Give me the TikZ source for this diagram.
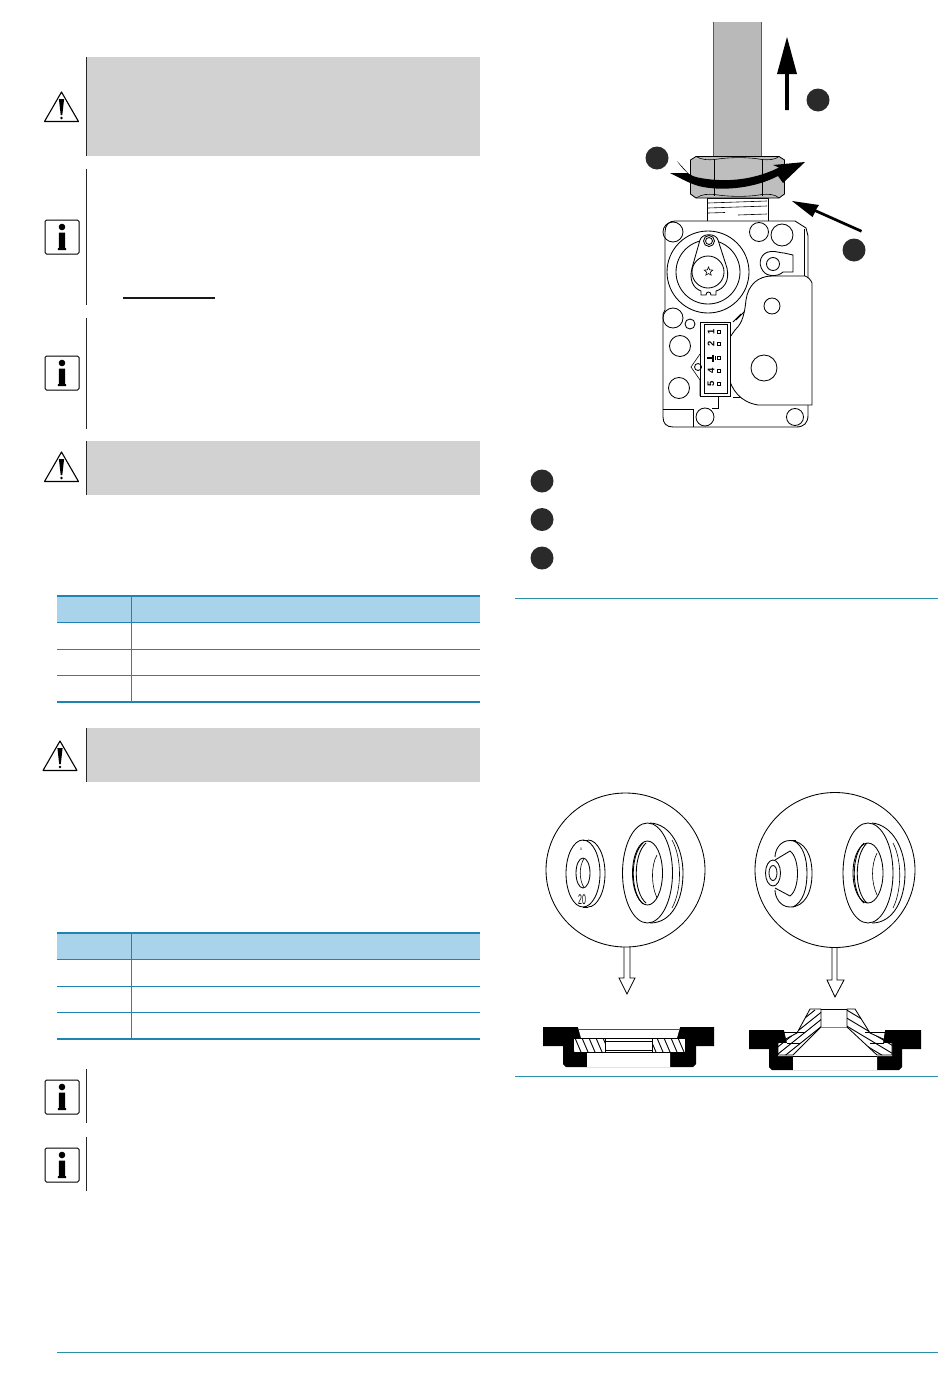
\documentclass[tikz,border=0pt]{standalone}
\usepackage{fontspec}
\setmainfont{Liberation Sans}
\usetikzlibrary{shapes.geometric}
\definecolor{panelgray}{HTML}{D2D2D2}
\definecolor{headblue}{HTML}{A8D3EA}
\definecolor{tableblue}{HTML}{1E84B4}
\definecolor{ruleteal}{HTML}{2B8FA6}
\definecolor{pipegray}{HTML}{B9B9B9}
\definecolor{nutgray}{HTML}{BEBEBE}
\definecolor{dotblack}{HTML}{2A2A2A}
\tikzset{
  panelbar/.style={line width=0.9pt,black!85},
  thinrule/.style={line width=0.9pt,ruleteal},
  tableheavy/.style={line width=1.9pt,tableblue},
  tablelight/.style={line width=1pt,tableblue},
  lineart/.style={line width=0.85pt,black},
  fineart/.style={line width=0.6pt,black},
  hatchline/.style={line width=0.9pt,black},
  dotmark/.style={circle,fill=dotblack,inner sep=0pt,minimum size=23pt},
  warnsign/.pic={
    \draw[line width=1.1pt,line join=round] (0,-16) -- (17,13.5) -- (-17,13.5) -- cycle;
    \fill (-2.6,-9) -- (2.6,-9) -- (0.8,7) -- (-0.8,7) -- cycle;
    \fill (0,10) circle (1.3);
  },
  infosign/.pic={
    \draw[line width=1pt,rounded corners=1.5pt] (-17,-17) rectangle (17,17);
    \fill (0,-10) circle (3.3);
    \fill (-3.2,-4.5) -- (3.2,-4.5) -- (3.2,11) -- (4.2,11) -- (4.2,13) -- (-4.2,13) -- (-4.2,11) -- (-3.2,11) -- cycle;
  }
}
\newcommand{\datatable}[1]{
  \fill[headblue] (57,#1) rectangle (480,#1+26);
  \draw[tableheavy] (57,#1) -- (480,#1);
  \draw[tablelight] (57,#1+26) -- (480,#1+26);
  \draw[tablelight] (57,#1+53) -- (480,#1+53);
  \draw[tablelight] (57,#1+79) -- (480,#1+79);
  \draw[tableheavy] (57,#1+106) -- (480,#1+106);
  \draw[tablelight] (131,#1) -- (131,#1+106);
}
\begin{document}
\begin{tikzpicture}[x=1pt,y=-1pt]
    \useasboundingbox (0,0) rectangle (950,1379);
    % left column panels
    \fill[panelgray] (87,57) rectangle (480,156);
    \draw[panelbar] (86,57) -- (86,156);
    \pic at (61.5,108) {warnsign};
    \draw[panelbar] (86,169) -- (86,305);
    \pic at (62,237) {infosign};
    \draw[line width=2pt,black!90] (123,297.5) -- (215,297.5);
    \draw[panelbar] (86,318) -- (86,429);
    \pic at (62,373) {infosign};
    \fill[panelgray] (87,441) rectangle (480,495);
    \draw[panelbar] (86,441) -- (86,495);
    \pic at (61.5,468) {warnsign};
    \datatable{596}
    \fill[panelgray] (87,728) rectangle (480,782);
    \draw[panelbar] (86,728) -- (86,782);
    \pic at (60,757) {warnsign};
    \datatable{933}
    \draw[panelbar] (86,1069) -- (86,1123);
    \pic at (62,1097) {infosign};
    \draw[panelbar] (86,1137) -- (86,1191);
    \pic at (62,1165) {infosign};
    % rules
    \draw[thinrule] (515,598.5) -- (938,598.5);
    \draw[thinrule] (515,1076) -- (938,1076);
    \draw[thinrule] (57,1352) -- (938,1352);
    % legend
    \node[dotmark] (legendA) at (542,481) {};
    \node[dotmark] (legendB) at (542,519.5) {};
    \node[dotmark] (legendC) at (542,558) {};
    % pipe and nut
    \fill[pipegray] (713.5,22) rectangle (761,157);
    \draw[line width=0.9pt,black!65] (713.5,22) -- (713.5,157);
    \draw[line width=0.9pt,black!65] (761,22) -- (761,157);
    \draw[lineart,fill=white] (707.5,198) rectangle (768,222);
    \draw[fineart] (708,203) -- (767,201);
    \draw[fineart] (708,208) -- (767,206);
    \draw[fineart] (708,213) -- (725,212.5);
    \draw[fineart] (738,215) -- (767,214);
    \draw[lineart,fill=nutgray,line join=round] (690.5,160) -- (696,156.5) -- (779,156.5) -- (784.5,160) -- (784.5,194) -- (779,198) -- (696,198) -- (690.5,194) -- cycle;
    \draw[fineart] (714.5,159) -- (714.5,196);
    \draw[fineart] (762,159) -- (762,196);
    \draw[fineart] (696,156.5) .. controls (702,160) and (708,160) .. (714.5,159.5) .. controls (730,157) and (748,157) .. (762,159.5) .. controls (768,160) and (775,160) .. (779,156.5);
    \draw[fineart] (696,198) .. controls (702,194) and (708,194) .. (714.5,194.5) .. controls (730,197) and (748,197) .. (762,194.5) .. controls (768,194) and (775,194) .. (779,198);
    % arrows
    \fill (787,37) -- (797,74) -- (788.8,74) -- (788.8,110) -- (785.2,110) -- (785.2,74) -- (777,74) -- cycle;
    \fill (677,161) .. controls (684,171) and (690,176) .. (698,177.5) .. controls (720,182) and (750,182) .. (779,167.5) -- (773,165) -- (805,162) -- (783,183) -- (778,176) .. controls (755,188) and (725,191) .. (703,187) .. controls (692,185) and (682,179) .. (670,173) -- (688,173) -- cycle;
    \fill (792,201) -- (819,205) -- (816,209.5) -- (862,230) -- (861,232.5) -- (815,212) -- (812.5,217) -- cycle;
    \node[dotmark] (markA) at (818,100) {};
    \node[dotmark] (markB) at (657,158) {};
    \node[dotmark] (markC) at (854,250) {};
    % valve body
    \draw[lineart,fill=white] (675,221) -- (795,221) -- (806,228) -- (808,236) -- (808,415) .. controls (808,423) and (804,427) .. (796,427) -- (673,427) .. controls (666,427) and (663,423) .. (663,417) -- (663,314) -- (665,310) -- (665,232) .. controls (665,225) and (669,221) .. (675,221) -- cycle;
    \draw[fineart] (804,229) -- (804,282);
    \draw[lineart] (673,232) circle (10);
    \draw[lineart] (759,232) circle (9.5);
    \draw[lineart] (782,235) circle (11);
    \draw[lineart] (708,272) circle (41);
    \draw[lineart] (708,272) circle (32);
    \draw[lineart,fill=white] (700,240) .. controls (702,233) and (716,233) .. (718,240) -- (727,268) .. controls (730,282) and (723,289) .. (716,291) -- (716,295) -- (711,295) .. controls (711,291) and (706,291) .. (706,295) -- (701,295) -- (701,291) .. controls (693,288) and (689,280) .. (692,268) -- cycle;
    \draw[lineart] (709,241) circle (5.5);
    \draw[lineart] (709,241) circle (3.5);
    \draw[lineart] (708,272) circle (16);
    \node[star,star points=5,star point ratio=2.2,draw,line width=0.6pt,inner sep=0pt,minimum size=9pt] (starmark) at (708.5,271.5) {};
    \draw[lineart,fill=white] (784,253) -- (793,255) -- (793,272) -- (783,272) .. controls (778,277) and (767,277) .. (763,271) .. controls (757,263) and (761,252) .. (771,251.5) .. controls (776,251) and (780,253) .. (784,253) -- cycle;
    \draw[lineart] (773,264) circle (6.5);
    \draw[lineart] (736,320) -- (748,308);
    \draw[lineart] (733,322) -- (741,314);
    \draw[lineart] (733,397) -- (741,397);
    \draw[lineart,fill=white] (812,283) -- (812,405) -- (758,405) .. controls (740,402) and (732,390) .. (728,376) -- (728,340) -- (735,330) .. controls (740,325) and (744,320) .. (746,300) .. controls (748,285) and (758,276) .. (772,276) -- (805,276) .. controls (808,277) and (811,280) .. (812,283) -- cycle;
    \draw[lineart] (772,306) circle (8);
    \draw[lineart] (764,368) circle (13);
    \draw[lineart,fill=white] (700,322) rectangle (730,396);
    \draw[fineart] (704,324) rectangle (727,393);
    \foreach \ypos/\lab in {332/1,344/2,371/4,384/5}{
        \node[rotate=90,inner sep=0pt,font=\bfseries\fontsize{9.5}{9.5}\selectfont] (pin\lab) at (711,\ypos) {\lab};
        \draw[fineart] (717.5,\ypos-1.5) rectangle (720.5,\ypos+1.5);
    }
    \draw[line width=1.1pt] (707,358) -- (713,358);
    \draw[line width=1.1pt] (713,354.5) -- (713,361.5);
    \draw[line width=0.8pt] (715,356) -- (715,360);
    \draw[fineart] (717.5,356.5) rectangle (720.5,359.5);
    \draw[lineart] (673,318) circle (10);
    \draw[lineart] (690,324) circle (5);
    \draw[lineart] (680,346) circle (10.5);
    \draw[lineart] (679,388) circle (10.5);
    \draw[lineart] (698,367) circle (3.5);
    \draw[lineart] (705,417) circle (9);
    \draw[lineart] (795,417) circle (8.5);
    \draw[lineart] (663,409) -- (693,409) -- (693,427);
    \draw[fineart] (700,396) -- (700,380) -- (691,367) -- (700,354);
    \draw[fineart] (718,396) -- (718,408) -- (712,408);
    % left magnifier
    \draw[lineart] (625.5,870) ellipse (79.5 and 77);
    \draw[lineart] (624,947) -- (624,978) -- (619,978) -- (627,994) -- (635,978) -- (630,978) -- (630,947);
    \draw[lineart] (588,840) arc (-90:90:17 and 33.5);
    \draw[lineart] (588,840) -- (583,840);
    \draw[lineart] (588,907) -- (583,907);
    \draw[lineart] (583,873.5) ellipse (17 and 33.5);
    \draw[lineart] (583,873) ellipse (7 and 15);
    \draw[fineart] (584,858.5) .. controls (579,866) and (579,880) .. (584,887.5);
    \node[inner sep=0pt,font=\fontsize{3.5}{4}\selectfont] (smallmark) at (581,849.5) {0};
    \node[inner sep=0pt,yscale=2,font=\fontsize{7}{7}\selectfont] (sizelabel) at (582,899.5) {20};
    \draw[lineart] (650,823) .. controls (672,824) and (683,850) .. (683,873) .. controls (683,900) and (672,923) .. (650,923);
    \draw[fineart] (672,840) .. controls (682,858) and (682,890) .. (672,908);
    \draw[lineart] (647.5,873) ellipse (25 and 50);
    \draw[lineart] (647.5,873) ellipse (15 and 32);
    \draw[lineart] (643,843) .. controls (630,855) and (630,892) .. (643,904);
    \draw[lineart] (646,843) .. controls (633,855) and (633,892) .. (646,903);
    \draw[fineart] (657,855) .. controls (651,865) and (651,885) .. (657,898);
    % left section
    \fill (543,1027) -- (714,1027) -- (714,1046) -- (696,1046) -- (696,1064) -- (693,1067) -- (566,1067) -- (563,1064) -- (563,1046) -- (543,1046) -- cycle;
    \fill[white] (578,1027) -- (680,1027) -- (677,1038) -- (685,1038) -- (685,1052) -- (670,1052) -- (670,1067) -- (587,1067) -- (587,1052) -- (573,1052) -- (573,1038) -- (581,1038) -- cycle;
    \draw[line width=1pt,black!70] (579,1029) -- (679,1029);
    \draw[fineart] (581,1038) -- (677,1038);
    \draw[fineart] (587,1052) -- (670,1052);
    \begin{scope}
        \clip (573,1038) rectangle (605,1052);
        \foreach \i in {0,...,5}{
            \draw[hatchline] (568+\i*7,1038) -- (574+\i*7,1052);
        }
    \end{scope}
    \begin{scope}
        \clip (652,1038) rectangle (685,1052);
        \foreach \i in {0,...,5}{
            \draw[hatchline] (650+\i*7,1038) -- (656+\i*7,1052);
        }
    \end{scope}
    \draw[lineart] (573,1038) rectangle (605,1052);
    \draw[lineart] (652,1038) rectangle (685,1052);
    \draw[fineart] (605,1041) -- (652,1041);
    \draw[fineart] (605,1050) -- (652,1050);
    % right magnifier
    \draw[lineart] (835,870) ellipse (80 and 77.5);
    \draw[lineart] (832,947) -- (832,980) -- (827,980) -- (835,997) -- (844,980) -- (837,980) -- (837,947);
    \draw[lineart] (790,840.5) .. controls (805,841) and (812,855) .. (812,873.5) .. controls (812,892) and (805,907) .. (790,907);
    \draw[lineart] (790,840.5) -- (796,840.5);
    \draw[lineart] (790,840.5) .. controls (780,840.5) and (775,850) .. (775,857);
    \draw[lineart] (790,907) .. controls (780,907) and (775,897) .. (775,890);
    \draw[lineart] (793,840.5) .. controls (803,845) and (807,858) .. (807,873.5) .. controls (807,889) and (803,902) .. (793,907);
    \draw[lineart] (775,860) -- (790,851);
    \draw[lineart] (775,888) -- (790,896);
    \draw[lineart] (790,851) .. controls (800,858) and (800,889) .. (790,896);
    \draw[lineart] (773,873) ellipse (7.5 and 13);
    \draw[lineart] (773,873) ellipse (4 and 7.5);
    \draw[lineart] (872,823) .. controls (893,825) and (905,850) .. (905,873) .. controls (905,900) and (893,923) .. (872,923);
    \draw[fineart] (893,843) .. controls (902,860) and (902,890) .. (893,908);
    \draw[lineart] (868,873) ellipse (25 and 50);
    \draw[lineart] (868,873) ellipse (15 and 30);
    \draw[lineart] (864,843) .. controls (851,855) and (851,892) .. (864,903);
    \draw[lineart] (867,843) .. controls (854,855) and (854,892) .. (867,903);
    \draw[fineart] (877,853) .. controls (871,865) and (871,882) .. (877,895);
    % right section
    \fill (749,1030) -- (921,1030) -- (921,1049) -- (902,1049) -- (902,1067) -- (899,1070) -- (772,1070) -- (769,1067) -- (769,1049) -- (749,1049) -- cycle;
    \fill[white] (784,1030) -- (885,1030) -- (883,1043) -- (892,1043) -- (892,1056) -- (877,1056) -- (877,1070) -- (793,1070) -- (793,1056) -- (778,1056) -- (778,1043) -- (787,1043) -- cycle;
    \draw[fineart] (784,1032) -- (805,1032);
    \draw[fineart] (865,1032) -- (885,1032);
    \draw[fineart] (793,1056) -- (877,1056);
    \draw[fineart] (787,1043) -- (800,1043);
    \draw[fineart] (870,1043) -- (884,1043);
    \begin{scope}
        \clip (810,1009) -- (821,1009) -- (821,1027) -- (793,1055) -- (778,1055) -- (778,1043) -- (797,1033) -- cycle;
        \foreach \i in {0,...,9}{
            \draw[hatchline] (755+\i*9,1058) -- ++(60,-48);
        }
    \end{scope}
    \begin{scope}
        \clip (855,1009) -- (847,1009) -- (847,1027) -- (877,1055) -- (892,1055) -- (892,1043) -- (870,1033) -- cycle;
        \foreach \i in {0,...,9}{
            \draw[hatchline] (845,985+\i*8) -- ++(50,30);
        }
    \end{scope}
    \draw[lineart,line join=round] (810,1009) -- (821,1009) -- (821,1027) -- (793,1055) -- (778,1055) -- (778,1043) -- (797,1033) -- cycle;
    \draw[lineart,line join=round] (855,1009) -- (847,1009) -- (847,1027) -- (877,1055) -- (892,1055) -- (892,1043) -- (870,1033) -- cycle;
    \draw[lineart] (821,1009) -- (847,1009);
    \draw[fineart,black!50] (821,1027) -- (847,1027);
\end{tikzpicture}
\end{document}
